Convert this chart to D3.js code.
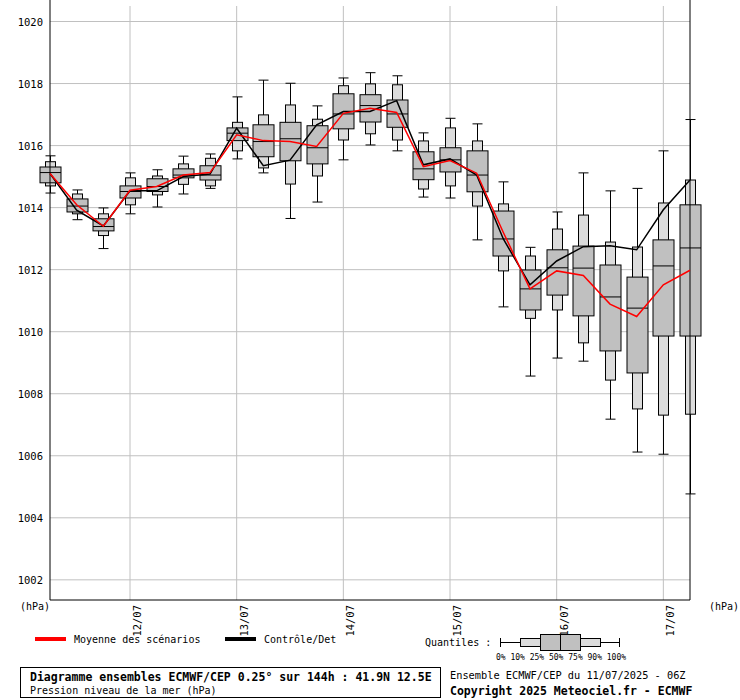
<!DOCTYPE html>
<html><head><meta charset="utf-8">
<script src="https://cdn.jsdelivr.net/npm/d3@7"></script>
<style>body{margin:0;background:#fff}text{font-family:"DejaVu Sans Mono",monospace}</style>
</head><body><svg id="c" width="740" height="700"></svg>
<script>
const q0  = [1014.47,1013.61,1012.68,1013.80,1014.02,1014.44,1014.62,1015.57,1015.12,1013.65,1014.18,1015.54,1016.02,1015.83,1014.34,1014.31,1012.96,1010.80,1008.57,1009.15,1009.05,1007.18,1006.12,1006.05,1004.77];
const q10 = [1014.70,1013.80,1013.10,1014.09,1014.41,1014.75,1014.70,1015.83,1015.28,1014.76,1015.02,1016.18,1016.38,1016.18,1014.60,1014.70,1014.05,1011.96,1010.43,1010.70,1009.64,1008.44,1007.51,1007.31,1007.34];
const q25 = [1014.80,1013.86,1013.25,1014.31,1014.52,1014.96,1014.89,1016.16,1015.64,1015.51,1015.41,1016.54,1016.76,1016.59,1014.90,1015.15,1014.51,1012.44,1010.70,1011.18,1010.51,1009.38,1008.67,1009.86,1009.86];
const q50 = [1015.13,1014.05,1013.39,1014.52,1014.68,1015.05,1015.05,1016.40,1016.13,1016.22,1015.93,1017.02,1017.29,1017.02,1015.25,1015.54,1015.05,1012.99,1011.38,1012.06,1012.05,1011.12,1010.76,1012.12,1012.70];
const q75 = [1015.31,1014.28,1013.64,1014.70,1014.93,1015.25,1015.35,1016.57,1016.67,1016.75,1016.64,1017.67,1017.64,1017.47,1015.80,1015.93,1015.83,1013.89,1011.99,1012.64,1012.76,1012.15,1011.76,1012.96,1014.09];
const q90 = [1015.48,1014.44,1013.80,1014.96,1015.02,1015.41,1015.59,1016.75,1016.99,1017.31,1016.85,1017.93,1017.99,1017.96,1016.15,1016.57,1016.15,1014.12,1012.44,1013.31,1013.76,1012.89,1012.73,1014.15,1014.89];
const q100= [1015.67,1014.57,1013.99,1015.12,1015.22,1015.66,1015.73,1017.57,1018.11,1018.01,1017.28,1018.18,1018.35,1018.25,1016.41,1016.88,1016.70,1014.83,1012.72,1013.86,1015.12,1014.54,1014.62,1015.83,1016.84];
const meanSeries = [1015.1,1014.09,1013.4,1014.56,1014.68,1015.05,1015.13,1016.35,1016.16,1016.13,1015.97,1017.04,1017.20,1017.07,1015.32,1015.52,1015.11,1013.2,1011.38,1011.96,1011.81,1010.89,1010.49,1011.51,1011.98];
const ctrlSeries = [1015.1,1013.92,1013.41,1014.54,1014.54,1015.0,1015.08,1016.56,1015.35,1015.53,1016.67,1017.10,1017.10,1017.45,1015.38,1015.57,1015.05,1012.99,1011.51,1012.28,1012.74,1012.77,1012.64,1013.93,1014.89];
const dayLabels = ["12/07","13/07","14/07","15/07","16/07","17/07"];
const dayIndex = [3,7,11,15,19,23];
const yTicks = [1002,1004,1006,1008,1010,1012,1014,1016,1018,1020];

const svg = d3.select("#c");
const x = d3.scaleLinear().domain([0,24]).range([50,690]);
const y = d3.scaleLinear().domain([1001.35,1020.5]).range([600,6]);
const idx = d3.range(q50.length);

svg.append("g").selectAll("line").data(yTicks).join("line")
  .attr("x1",50).attr("x2",690).attr("y1",d=>y(d)).attr("y2",d=>y(d)).attr("stroke","#c0c0c0");
svg.append("g").selectAll("line").data(dayIndex).join("line")
  .attr("x1",d=>x(d)).attr("x2",d=>x(d)).attr("y1",6).attr("y2",600).attr("stroke","#c0c0c0");
svg.append("g").selectAll("text").data(yTicks).join("text")
  .attr("x",43).attr("y",d=>y(d)+4).attr("text-anchor","end").attr("font-size",10.5).text(d=>d);
svg.append("g").selectAll("text").data(dayIndex).join("text")
  .attr("transform",(d)=>`translate(${x(d)+11},605) rotate(-90)`).attr("text-anchor","end")
  .attr("font-size",10.5).text((d,i)=>dayLabels[i]);
svg.append("text").attr("x",20).attr("y",610).attr("font-size",10).text("(hPa)");
svg.append("text").attr("x",709).attr("y",610).attr("font-size",10).text("(hPa)");

const g = svg.append("g").attr("stroke","#000").attr("stroke-width",1);
idx.forEach(i=>{
  const cx = Math.round(x(i))+0.5;
  g.append("line").attr("x1",cx).attr("x2",cx).attr("y1",y(q100[i])).attr("y2",y(q0[i]));
  [q100[i],q0[i]].forEach(v=>g.append("line").attr("x1",cx-5).attr("x2",cx+5).attr("y1",y(v)).attr("y2",y(v)));
  g.append("rect").attr("x",cx-5).attr("width",10).attr("y",y(q90[i])).attr("height",y(q10[i])-y(q90[i])).attr("fill","#dcdcdc");
  g.append("rect").attr("x",cx-10.5).attr("width",21).attr("y",y(q75[i])).attr("height",y(q25[i])-y(q75[i])).attr("fill","#c0c0c0");
  g.append("line").attr("x1",cx-10.5).attr("x2",cx+10.5).attr("y1",y(q50[i])).attr("y2",y(q50[i]));
});
svg.append("line").attr("x1",50).attr("x2",50).attr("y1",0).attr("y2",600).attr("stroke","#000");
svg.append("line").attr("x1",690).attr("x2",690).attr("y1",0).attr("y2",600).attr("stroke","#000");
svg.append("line").attr("x1",50).attr("x2",690).attr("y1",600).attr("y2",600).attr("stroke","#000");

const line = d3.line().x((d,i)=>x(i)).y(d=>y(d));
svg.append("path").datum(ctrlSeries).attr("d",line).attr("fill","none").attr("stroke","#000").attr("stroke-width",1.5);
svg.append("path").datum(meanSeries).attr("d",line).attr("fill","none").attr("stroke","#f00").attr("stroke-width",1.5);

svg.append("rect").attr("x",35).attr("y",637).attr("width",31).attr("height",4).attr("fill","#f00");
svg.append("text").attr("x",74).attr("y",643).attr("font-size",10).text("Moyenne des scénarios");
svg.append("rect").attr("x",225).attr("y",637).attr("width",31).attr("height",4).attr("fill","#000");
svg.append("text").attr("x",264).attr("y",643).attr("font-size",10).text("Contrôle/Det");
svg.append("text").attr("x",425).attr("y",646).attr("font-size",10).text("Quantiles :");
const lg = svg.append("g").attr("stroke","#000");
lg.append("line").attr("x1",500).attr("x2",620).attr("y1",642.5).attr("y2",642.5);
lg.append("line").attr("x1",500.5).attr("x2",500.5).attr("y1",638).attr("y2",647);
lg.append("line").attr("x1",619.5).attr("x2",619.5).attr("y1",638).attr("y2",647);
lg.append("rect").attr("x",520.5).attr("y",638.5).attr("width",80).attr("height",8).attr("fill","#dcdcdc");
lg.append("rect").attr("x",540.5).attr("y",634.5).attr("width",40).attr("height",16).attr("fill","#c0c0c0");
lg.append("line").attr("x1",560.5).attr("x2",560.5).attr("y1",634.5).attr("y2",650.5);
svg.append("text").attr("x",496).attr("y",660).attr("font-size",8).text("0%  10% 25% 50% 75% 90% 100%");

svg.append("rect").attr("x",20.5).attr("y",667.5).attr("width",420).attr("height",30).attr("fill","none").attr("stroke","#000");
svg.append("text").attr("x",30).attr("y",681).attr("font-size",11.5).attr("font-weight","bold").text("Diagramme ensembles ECMWF/CEP 0.25° sur 144h : 41.9N 12.5E");
svg.append("text").attr("x",30).attr("y",694).attr("font-size",10).text("Pression niveau de la mer (hPa)");
svg.append("text").attr("x",450).attr("y",679).attr("font-size",10.3).text("Ensemble ECMWF/CEP du 11/07/2025 - 06Z");
svg.append("text").attr("x",450).attr("y",695).attr("font-size",11.5).attr("font-weight","bold").text("Copyright 2025 Meteociel.fr - ECMWF");
</script></body></html>
